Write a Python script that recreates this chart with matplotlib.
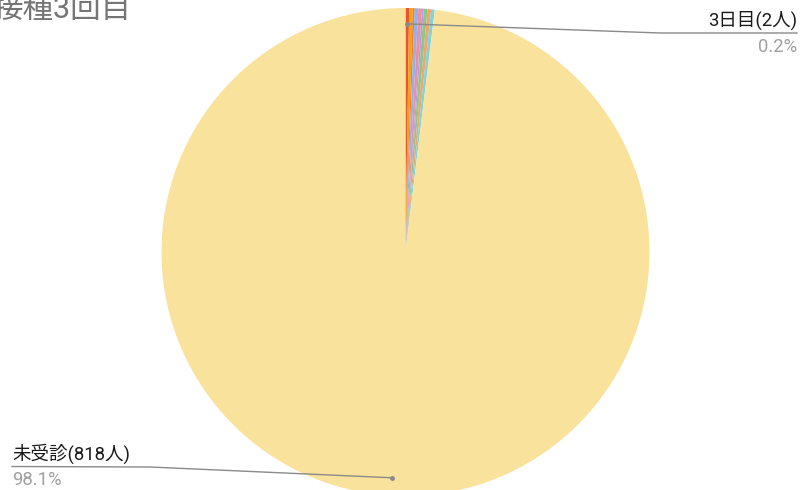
import numpy as np
import matplotlib
matplotlib.use("Agg")
import matplotlib.pyplot as plt

plt.rcParams['font.family'] = ['Roboto', 'Noto Sans CJK JP', 'DejaVu Sans']

# データ（人数）
labels = ["3日目", "当日", "1日目", "2日目", "4日目", "5日目", "6日目", "7日目", "8日目以降", "未受診"]
values = [2, 2, 1, 2, 2, 1, 2, 2, 2, 818]
colors = ["#E9542B", "#F6A01A", "#EE7F1E", "#8FB2EE", "#EE8FA0", "#B79AE0",
          "#86C98A", "#F2A56B", "#7FD3DC", "#F9E29C"]
title = "接種3回目"

W, H = 804, 490
fig = plt.figure(figsize=(W / 100, H / 100), dpi=100)

# パイの位置（ピクセル）
cx, cy, R = 405.5, 252.0, 244.0
ax = fig.add_axes([(cx - R) / W, (H - cy - R) / H, 2 * R / W, 2 * R / H])
ax.pie(values, colors=colors, startangle=90, counterclock=False,
       wedgeprops=dict(linewidth=0))
ax.set_xlim(-1, 1)
ax.set_ylim(-1, 1)
ax.set_aspect('equal')
ax.axis('off')

# 注釈用の全面オーバーレイ（ピクセル座標）
ov = fig.add_axes([0, 0, 1, 1])
ov.set_xlim(0, W)
ov.set_ylim(H, 0)
ov.axis('off')

total = sum(values)
cum = np.cumsum([0] + values)


def anchor(i, frac=0.935):
    mid = (cum[i] + cum[i + 1]) / 2 / total * 2 * np.pi
    return cx + R * frac * np.sin(mid), cy - R * frac * np.cos(mid)


def pct(i):
    return f"{values[i] / total * 100:.1f}%"


line_c = "#8a8a8a"
fs = 13.3

# 3日目
i = labels.index("3日目")
ax0, ay0 = anchor(i)
ov.plot([ax0, 660, 797], [ay0, 33, 33], color=line_c, lw=1)
ov.plot([ax0], [ay0], 'o', ms=2.5, color=line_c)
ov.text(797, 30, f"{labels[i]}({values[i]}人)", ha='right', va='bottom',
        fontsize=fs, color="#1a1a1a")
ov.text(797, 37.5, pct(i), ha='right', va='top', fontsize=fs, color="#a0a0a0")

# 未受診
i = labels.index("未受診")
ax1, ay1 = anchor(i, 0.927)
ov.plot([12, 150, ax1], [466.5, 467, ay1], color=line_c, lw=1)
ov.plot([ax1], [ay1], 'o', ms=2.5, color=line_c)
ov.text(12, 463.5, f"{labels[i]}({values[i]}人)", ha='left', va='bottom',
        fontsize=fs, color="#1a1a1a")
ov.text(12, 471, pct(i), ha='left', va='top', fontsize=fs, color="#a0a0a0")

# タイトル（左側が切れている）
ov.text(-8, -5, title, ha='left', va='top', fontsize=22, color="#757575")

fig.savefig("out.png", dpi=100)
